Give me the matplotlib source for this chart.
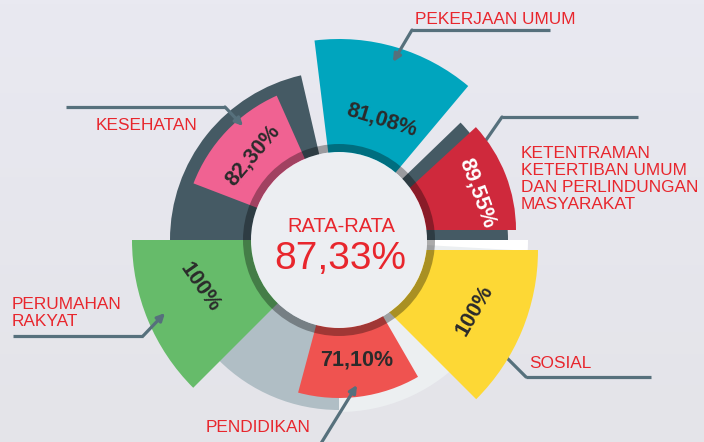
import numpy as np
import matplotlib.pyplot as plt
from matplotlib.patches import Wedge, Circle
from matplotlib.colors import LinearSegmentedColormap

plt.rcParams['font.family'] = ['Liberation Sans', 'DejaVu Sans']

# data
categories = ['PEKERJAAN UMUM',
              'KETENTRAMAN\nKETERTIBAN UMUM\nDAN PERLINDUNGAN\nMASYARAKAT',
              'SOSIAL', 'PENDIDIKAN', 'PERUMAHAN\nRAKYAT', 'KESEHATAN']
values = [81.08, 89.55, 100, 71.10, 100, 82.30]
average = 87.33

# layout (pixel space, y up)
W, H = 704, 442
C = np.array([339, 202])
colors = ['#00A5BE', '#CF293C', '#FDD835', '#EF5350', '#66BB6A', '#F06292']
theta = [(50, 97), (0, 42.6), (-45, 0), (-105, -60), (180, 225), (114, 159)]
radius = [201, 152, 211, 158, 209, 158]
offset = [(0, 0), (25, 10), (-12, -10), (0, 0), (2, 0), (2, 0)]
lab_pos = [(382, 120), (477, 193), (475, 310), (357, 360), (200, 287), (253, 155)]
lab_rot = [-17, -70, 60, 0, -55, 50]
lab_col = ['#2B2B2B', 'white', '#2B2B2B', '#2B2B2B', '#2B2B2B', '#2B2B2B']

# label text anchors (pixel, y down) and leader lines
name_pos = [(415, 19), (521, 179), (529, 363), (206, 428), (12, 313), (96, 125)]
leaders = [[(550, 30), (412, 30), (393, 62)],
           [(638, 117), (502, 117), (484, 143)],
           [(651, 377), (526, 377), (503, 354)],
           [(320, 445), (357, 385)],
           [(13, 336), (143, 336), (165, 313)],
           [(66, 107), (225, 107), (243, 126)]]
arrow_on = [True, False, False, True, True, True]
line_under = [False, True, True, False, False, False]


def fmt(v):
    if v == int(v):
        return f'{int(v)}%'
    return f'{v:.2f}%'.replace('.', ',')


def yu(p):
    return (p[0], H - p[1])


fig = plt.figure(figsize=(W / 100, H / 100), dpi=100)
ax = fig.add_axes([0, 0, 1, 1])
ax.set_xlim(0, W)
ax.set_ylim(0, H)
ax.axis('off')

bg = LinearSegmentedColormap.from_list('bg', ['#E4E4E9', '#E9E9F1'])
ax.imshow(np.linspace(0, 1, 100).reshape(-1, 1), cmap=bg, extent=[0, W, 0, H],
          origin='lower', aspect='auto', zorder=0)

# leader lines
lc = '#56707C'
for pts, arr, under in zip(leaders, arrow_on, line_under):
    pts = [yu(p) for p in pts]
    z = 1 if under else 6
    xs, ys = zip(*pts)
    ax.plot(xs[:-1], ys[:-1], color=lc, lw=2.3, zorder=z, solid_capstyle='butt')
    ax.annotate('', xy=pts[-1], xytext=pts[-2],
                arrowprops=dict(arrowstyle='-|>' if arr else '-', color=lc, lw=2.3,
                                mutation_scale=11, shrinkA=0, shrinkB=0),
                zorder=z)

# background track
track = [((103, 180), 169, '#455A64'), ((0, 44), 169, '#455A64'),
         ((180, 270), 170, '#B0BEC5'), ((270, 360), 172, '#ECEFF1'),
         ((-3.3, 0), 189, '#FFFFFF')]
for (t1, t2), r, c in track:
    ax.add_patch(Wedge(C, r, t1, t2, facecolor=c, edgecolor='none', zorder=2))

# sectors
for (t1, t2), r, (dx, dy), c in zip(theta, radius, offset, colors):
    ax.add_patch(Wedge(C + np.array([dx, dy]), r, t1, t2, facecolor=c,
                       edgecolor='none', zorder=3))

# inner ring and centre
ax.add_patch(Wedge(C, 96, 0, 360, width=8, facecolor='black', alpha=0.33,
                   edgecolor='none', zorder=4))
ax.add_patch(Circle(C, 88, facecolor='#ECEEF2', edgecolor='none', zorder=5))

ax.text(C[0] + 2, H - 226, 'RATA-RATA', ha='center', va='center', fontsize=14.5,
        color='#E8262D', zorder=7)
ax.text(C[0] + 1, H - 259, fmt(average), ha='center', va='center', fontsize=28,
        color='#E8262D', zorder=7)

for v, p, rot, c in zip(values, lab_pos, lab_rot, lab_col):
    ax.text(*yu(p), fmt(v), ha='center', va='center', rotation=rot, fontsize=15.5,
            fontweight='bold', color=c, zorder=7)

for name, p in zip(categories, name_pos):
    ax.text(*yu(p), name, ha='left', va='center', fontsize=12.4,
            color='#E8262D', linespacing=1.15, zorder=7)

plt.savefig('out.png', dpi=100)
